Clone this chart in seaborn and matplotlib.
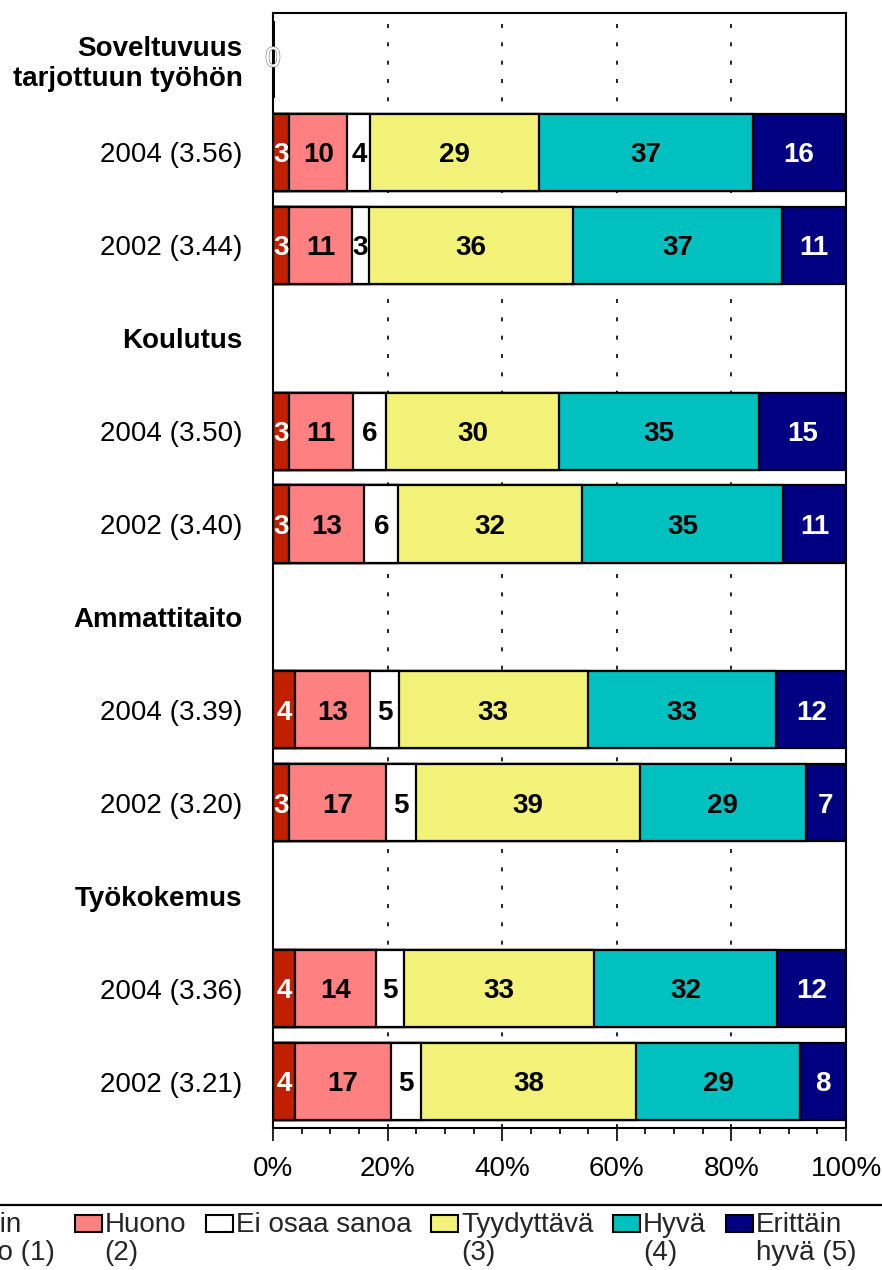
import numpy as np
import pandas as pd
import seaborn as sns
import matplotlib
matplotlib.use("Agg")
import matplotlib.pyplot as plt
from matplotlib.patches import Patch, Rectangle
from matplotlib.lines import Line2D
from matplotlib.legend_handler import HandlerPatch
import matplotlib.patheffects as pe
from matplotlib.ticker import MultipleLocator, FuncFormatter

nan = np.nan

rows = ["Soveltuvuus\ntarjottuun työhön", "2004 (3.56)", "2002 (3.44)",
        "Koulutus", "2004 (3.50)", "2002 (3.40)",
        "Ammattitaito", "2004 (3.39)", "2002 (3.20)",
        "Työkokemus", "2004 (3.36)", "2002 (3.21)"]
header_rows = ["Soveltuvuus\ntarjottuun työhön", "Koulutus", "Ammattitaito", "Työkokemus"]

series = ["Erittäin huono (1)", "Huono (2)", "Ei osaa sanoa",
          "Tyydyttävä (3)", "Hyvä (4)", "Erittäin hyvä (5)"]
legend_labels = ["Erittäin\nhuono (1)", "Huono\n(2)", "Ei osaa sanoa\n",
                 "Tyydyttävä\n(3)", "Hyvä\n(4)", "Erittäin\nhyvä (5)"]
colors = ["#C02000", "#FF8080", "#FFFFFF", "#F2F278", "#00C0C0", "#000080"]
label_colors = ["white", "black", "black", "black", "black", "white"]

# shares (%)
erittain_huono = [0, 2.8, 2.8, nan, 2.8, 2.8, nan, 3.8, 2.8, nan, 3.8, 3.8]
huono = [0, 10.2, 11.0, nan, 11.2, 13.15, nan, 13.15, 17.0, nan, 14.1, 16.8]
ei_osaa = [0, 4.0, 2.9, nan, 5.8, 5.9, nan, 5.0, 5.1, nan, 5.0, 5.2]
tyydyttava = [0, 29.4, 35.6, nan, 30.1, 32.1, nan, 33.0, 39.1, nan, 33.2, 37.6]
hyva = [0, 37.3, 36.6, nan, 35.0, 35.0, nan, 32.9, 29.0, nan, 31.8, 28.6]
erittain_hyva = [0, 16.2, 11.1, nan, 15.1, 11.1, nan, 12.2, 7.0, nan, 12.2, 8.0]

# numbers printed on the bars
lab_erittain_huono = [0, 3, 3, None, 3, 3, None, 4, 3, None, 4, 4]
lab_huono = [None, 10, 11, None, 11, 13, None, 13, 17, None, 14, 17]
lab_ei_osaa = [None, 4, 3, None, 6, 6, None, 5, 5, None, 5, 5]
lab_tyydyttava = [None, 29, 36, None, 30, 32, None, 33, 39, None, 33, 38]
lab_hyva = [None, 37, 37, None, 35, 35, None, 33, 29, None, 32, 29]
lab_erittain_hyva = [None, 16, 11, None, 15, 11, None, 12, 7, None, 12, 8]

values = [erittain_huono, huono, ei_osaa, tyydyttava, hyva, erittain_hyva]
shown = [lab_erittain_huono, lab_huono, lab_ei_osaa, lab_tyydyttava, lab_hyva, lab_erittain_hyva]

sns.set_theme(style="white")
plt.rcParams["font.family"] = ["Liberation Sans", "DejaVu Sans"]

fig = plt.figure(figsize=(8.82, 12.7), dpi=100)
ax = fig.add_axes([273 / 882, 1 - 1128 / 1270, (846 - 273) / 882, (1128 - 13) / 1270])

arr = np.array(values, dtype=float)
cum = np.cumsum(arr, axis=0)
for k in range(len(series) - 1, -1, -1):
    d = pd.DataFrame({"row": rows, "cum": cum[k]}).dropna()
    sns.barplot(data=d, x="cum", y="row", order=rows, orient="y",
                color=colors[k], saturation=1, edgecolor="black",
                linewidth=1.6, width=0.83, errorbar=None, ax=ax, zorder=2)

# zero-length bars show as a heavy line on the axis
for p in ax.patches:
    if abs(p.get_width()) < 1e-9:
        p.set_linewidth(2.6)
        p.set_zorder(4)

# value labels
for k in range(len(series)):
    for i, lab in enumerate(shown[k]):
        if lab is None:
            continue
        v = arr[k][i]
        center = cum[k][i] - v / 2
        if i == 0:
            ax.text(center, i, str(lab), ha="center", va="center", fontsize=20,
                    color="white", zorder=5,
                    path_effects=[pe.withStroke(linewidth=1.0, foreground="#8a8a8a")])
        else:
            ax.text(center, i + 0.03, str(lab), ha="center", va="center", fontsize=20,
                    fontweight="bold", color=label_colors[k], zorder=5)

ax.set_xlim(0, 100)
ax.set_ylim(len(rows) - 0.5, -0.5)
ax.set_xlabel("")
ax.set_ylabel("")
ax.xaxis.set_major_locator(MultipleLocator(20))
ax.xaxis.set_minor_locator(MultipleLocator(5))
ax.xaxis.set_major_formatter(FuncFormatter(lambda v, p: f"{v:.0f}%"))
ax.tick_params(axis="x", which="major", direction="out", length=9, width=1.2,
               color="black", labelsize=20, pad=11, bottom=True)
ax.tick_params(axis="x", which="minor", direction="out", length=4.5, width=1.2,
               color="black", bottom=True)
ax.tick_params(axis="y", length=0, pad=22, labelsize=20)
ax.set_yticks(range(len(rows)))
ax.set_yticklabels(rows)
for t in ax.get_yticklabels():
    if t.get_text() in header_rows:
        t.set_fontweight("bold")
    t.set_color("black")
for t in ax.get_xticklabels():
    t.set_color("black")

ax.set_axisbelow(True)
ax.xaxis.grid(True, which="major", color="black", linewidth=1.2,
              linestyle=(0, (2.4, 8.6)))
ax.yaxis.grid(False)
for s in ax.spines.values():
    s.set_visible(True)
    s.set_color("black")
    s.set_linewidth(1.5)


def raised_patch(legend, orig_handle, xdescent, ydescent, width, height, fontsize):
    return Rectangle((-xdescent, -ydescent + 11.5), width, height)


handles = [Patch(facecolor=c, edgecolor="black", linewidth=1.5) for c in colors]
leg = fig.legend(handles, legend_labels, loc="upper left",
                 bbox_to_anchor=(-94 / 882, 1 - 1212 / 1270),
                 bbox_transform=fig.transFigure, ncol=6, frameon=False,
                 fontsize=20, handlelength=0.97, handleheight=0.58,
                 handletextpad=0.1, columnspacing=0.72, borderpad=0,
                 borderaxespad=0,
                 handler_map={Patch: HandlerPatch(patch_func=raised_patch)})
for t in leg.get_texts():
    t.set_linespacing(1.12)
fig.add_artist(Line2D([0, 1], [1 - 1205 / 1270] * 2, transform=fig.transFigure,
                      color="black", linewidth=1.6))

fig.savefig("out.png", dpi=100)
